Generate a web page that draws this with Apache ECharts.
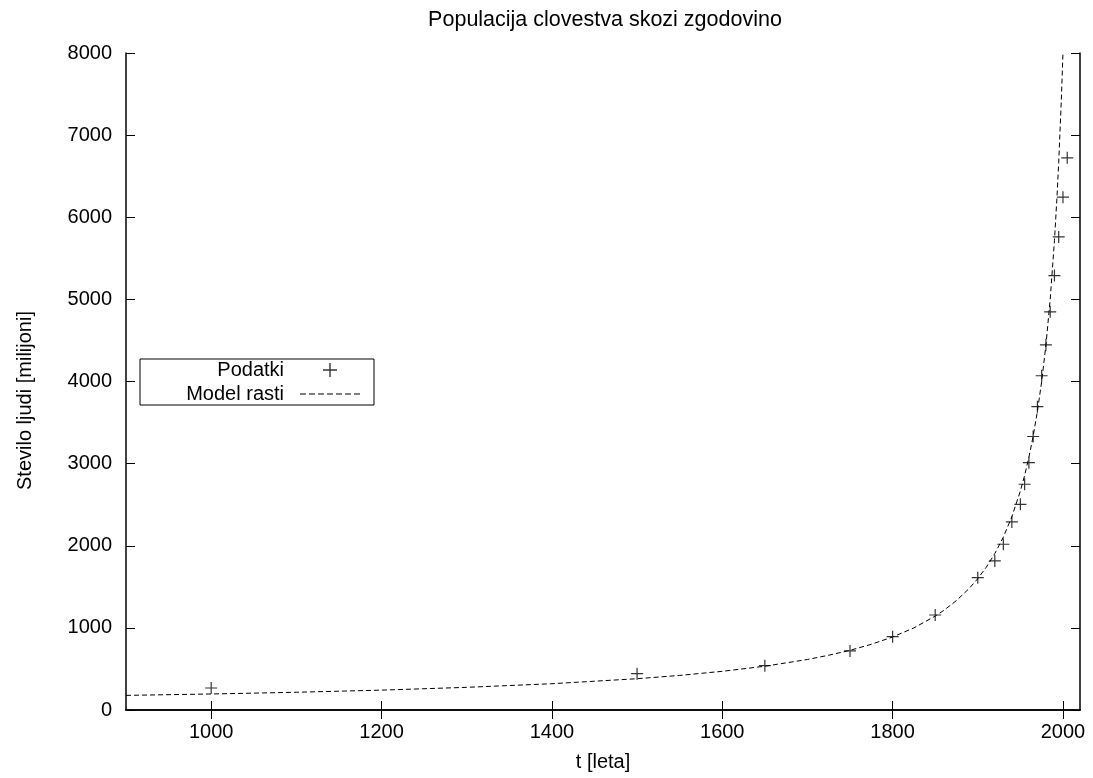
<!DOCTYPE html>
<html>
<head>
    <meta charset="UTF-8">
    <title>Populacija clovestva skozi zgodovino</title>
    <script src="https://cdn.jsdelivr.net/npm/echarts@6.0.0/dist/echarts.min.js"></script>
    <style>
        body { margin: 0; padding: 0; background: #fff; }
        #chart { width: 1093px; height: 778px; }
    </style>
</head>
<body>
<div id="chart"></div>
<script>
// podatki (odcitano s slike)
const dataYears = [1000, 1500, 1650, 1750, 1800, 1850, 1900, 1920, 1930, 1940, 1950, 1955, 1960, 1965, 1970, 1975, 1980, 1985, 1990, 1995, 2000, 2005];
const dataPop = [268, 442, 540, 719, 893, 1157, 1611, 1815, 2018, 2290, 2505, 2749, 3012, 3330, 3694, 4070, 4446, 4848, 5290, 5761, 6245, 6723];

// model rasti (odcitano s krivulje)
const modelYears = [900, 1000, 1100, 1200, 1300, 1400, 1500, 1550, 1600, 1650, 1700, 1725, 1750, 1775, 1800, 1825, 1850, 1860, 1875, 1890, 1900, 1910, 1920, 1930, 1940, 1950, 1955, 1960, 1965, 1970, 1975, 1980, 1985, 1990, 1993, 1995, 1998, 2000];
const modelPop = [178, 195, 216, 242, 276, 320, 381, 421, 471, 533, 615, 667, 727, 800, 889, 1000, 1143, 1212, 1333, 1481, 1600, 1739, 1905, 2105, 2353, 2667, 2857, 3077, 3333, 3636, 4000, 4444, 5000, 5714, 6250, 6667, 7407, 8000];

// oznake osi
const xTicks = [1000, 1200, 1400, 1600, 1800, 2000];

const FONT = "'Liberation Sans', Arial, sans-serif";
const plusIcon = 'path://M4.5,0 L5.5,0 L5.5,4.5 L10,4.5 L10,5.5 L5.5,5.5 L5.5,10 L4.5,10 L4.5,5.5 L0,5.5 L0,4.5 L4.5,4.5 Z';
// crtkana crta za legendo (sedem crtic)
const dashIcon = 'path://M0,0 h6 v1 h-6 z M9,0 h6 v1 h-6 z M18,0 h6 v1 h-6 z M27,0 h6 v1 h-6 z M36,0 h6 v1 h-6 z M45,0 h6 v1 h-6 z M54,0 h6 v1 h-6 z';

const axisLine = { show: true, lineStyle: { color: '#000', width: 1.5 } };
const tick = { show: true, inside: true, length: 9, lineStyle: { color: '#000', width: 1 } };
const plain = v => String(v);

const chart = echarts.init(document.getElementById('chart'));

chart.setOption({
    animation: false,
    backgroundColor: '#fff',
    textStyle: { fontFamily: FONT },
    title: {
        text: 'Populacija clovestva skozi zgodovino',
        left: 600,
        textAlign: 'center',
        top: 4,
        textStyle: { fontFamily: FONT, fontSize: 21.5, fontWeight: 'normal', color: '#000' }
    },
    legend: {
        orient: 'vertical',
        left: 140,
        top: 359,
        align: 'right',
        borderColor: '#000',
        borderWidth: 1,
        padding: [0, 14, 0, 0],
        itemGap: 2,
        itemWidth: 60,
        itemHeight: 14,
        textStyle: { fontFamily: FONT, fontSize: 20, color: '#000', width: 144, align: 'right', lineHeight: 22, padding: [0, 11, 0, 0] },
        data: [
            { name: 'Podatki', icon: plusIcon, itemStyle: { color: '#000' } },
            { name: 'Model rasti', icon: dashIcon, itemStyle: { color: '#000' } }
        ]
    },
    grid: { left: 126, right: 13, top: 53, bottom: 68 },
    xAxis: [{
        type: 'value',
        min: 900,
        max: 2020,
        name: 't [leta]',
        nameLocation: 'middle',
        nameGap: 42,
        nameTextStyle: { fontFamily: FONT, fontSize: 20, color: '#000' },
        axisLine: axisLine,
        axisTick: Object.assign({}, tick, { customValues: xTicks }),
        axisLabel: { customValues: xTicks, formatter: plain, margin: 12, fontFamily: FONT, fontSize: 20, color: '#000' },
        splitLine: { show: false }
    }, {
        type: 'value',
        position: 'top',
        min: 900,
        max: 2020,
        axisLine: axisLine,
        axisTick: Object.assign({}, tick, { customValues: xTicks }),
        axisLabel: { show: false },
        splitLine: { show: false }
    }],
    yAxis: [{
        type: 'value',
        min: 0,
        max: 8000,
        interval: 1000,
        name: 'Stevilo ljudi [milijoni]',
        nameLocation: 'middle',
        nameGap: 91,
        nameTextStyle: { fontFamily: FONT, fontSize: 20, color: '#000', padding: [0, 38, 0, 0] },
        axisLine: axisLine,
        axisTick: tick,
        axisLabel: { formatter: plain, margin: 14, fontFamily: FONT, fontSize: 20, color: '#000' },
        splitLine: { show: false }
    }, {
        type: 'value',
        position: 'right',
        min: 0,
        max: 8000,
        interval: 1000,
        axisLine: axisLine,
        axisTick: tick,
        axisLabel: { show: false },
        splitLine: { show: false }
    }],
    series: [{
        name: 'Podatki',
        type: 'scatter',
        symbol: plusIcon,
        symbolSize: 12,
        itemStyle: { color: '#000' },
        data: dataYears.map((y, i) => [y, dataPop[i]]),
        z: 3
    }, {
        name: 'Model rasti',
        type: 'line',
        smooth: false,
        showSymbol: false,
        symbol: 'none',
        clip: true,
        lineStyle: { color: '#000', width: 1, type: [5, 3] },
        itemStyle: { color: '#000' },
        data: modelYears.map((y, i) => [y, modelPop[i]]),
        z: 2
    }]
});
</script>
</body>
</html>
